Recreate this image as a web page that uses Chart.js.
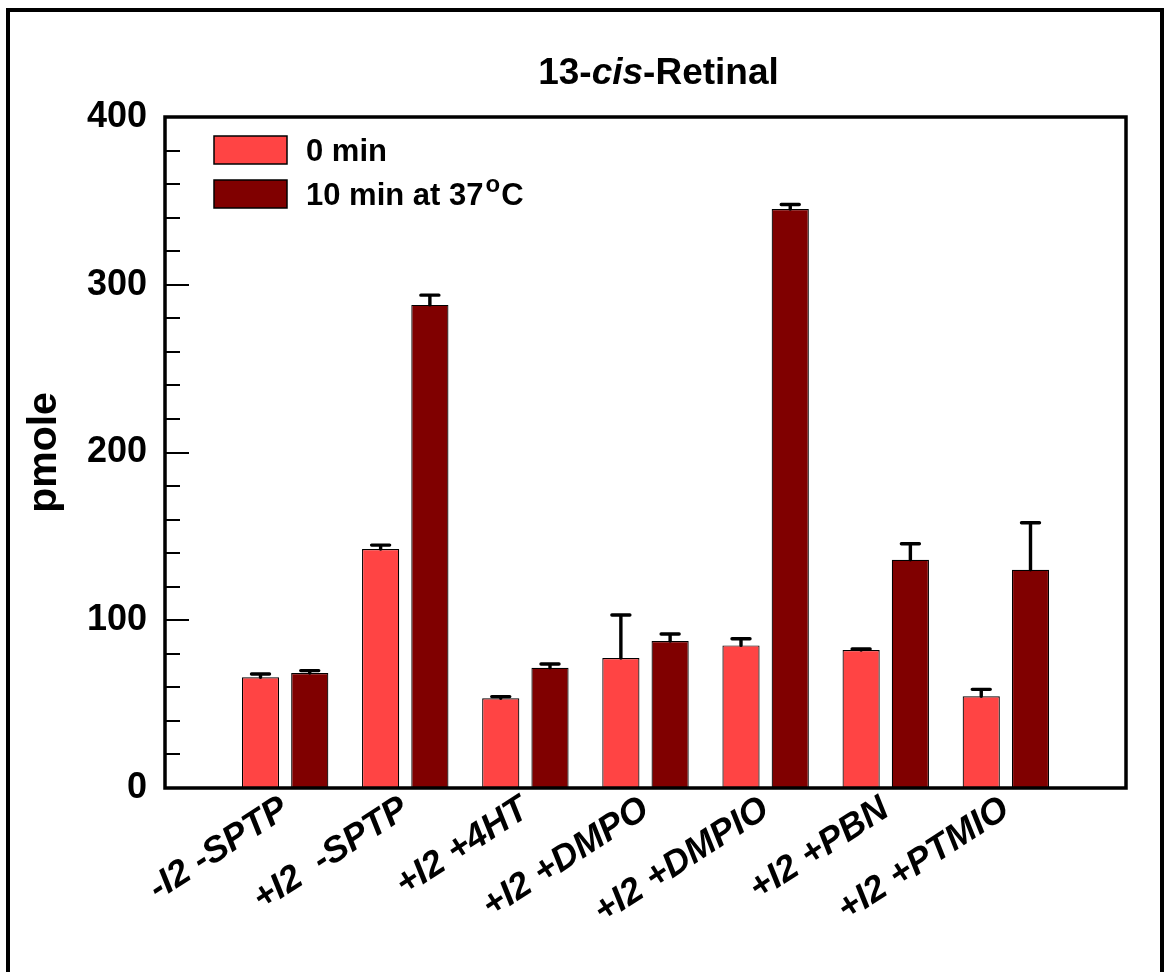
<!DOCTYPE html>
<html>
<head>
<meta charset="utf-8">
<script src="https://cdn.jsdelivr.net/npm/chart.js@4"></script>
<style>
  html, body { margin: 0; padding: 0; background: #fff; }
  #wrap { width: 1170px; height: 972px; position: relative; }
</style>
</head>
<body>
<div id="wrap"><canvas id="c" width="1170" height="972"></canvas></div>
<script>
// ---- data ----
const categories = ['', '-I2 -SPTP', '+I2  -SPTP', '+I2 +4HT', '+I2 +DMPO', '+I2 +DMPIO', '+I2 +PBN', '+I2 +PTMIO', ''];
const series0Label = '0 min';
const series1Label = '10 min at 37°C';
const values0min = [null, 66, 142.5, 53.5, 77.5, 85, 82.3, 54.7, null];
const errors0min = [null, 2, 2.3, 1, 25.6, 4, 0.6, 4.1, null];
const values10min = [null, 68.5, 288, 71.7, 87.6, 345.2, 136.1, 130.1, null];
const errors10min = [null, 1.5, 5.8, 2.2, 4.2, 2.6, 9.5, 28, null];
const yMajorTicks = [0, 100, 200, 300, 400];
const yMinorStep = 20;
const titleParts = [['13-', 'normal'], ['cis', 'italic'], ['-Retinal', 'normal']];

const FONT = '"Liberation Sans", Arial, sans-serif';
const colLight = '#FF4444';
const colDark = '#800000';

const errorBars = {
  id: 'errorBars',
  afterDatasetsDraw(chart) {
    const ctx = chart.ctx;
    const y = chart.scales.y;
    const errs = [errors0min, errors10min];
    chart.data.datasets.forEach((ds, di) => {
      const meta = chart.getDatasetMeta(di);
      meta.data.forEach((el, i) => {
        const v = ds.data[i];
        if (v == null) return;
        const top = y.getPixelForValue(v + errs[di][i]);
        ctx.save();
        ctx.strokeStyle = '#000';
        ctx.lineWidth = 3.4;
        ctx.lineCap = 'round';
        ctx.beginPath();
        ctx.moveTo(el.x, el.y);
        ctx.lineTo(el.x, top);
        ctx.moveTo(el.x - 9, top);
        ctx.lineTo(el.x + 9, top);
        ctx.stroke();
        ctx.restore();
      });
    });
  }
};

const frame = {
  id: 'frame',
  afterDraw(chart) {
    const ctx = chart.ctx;
    const a = chart.chartArea;
    const y = chart.scales.y;
    ctx.save();
    // minor / major ticks pointing inward
    ctx.strokeStyle = '#000';
    ctx.lineWidth = 2;
    for (let v = 0; v <= 400; v += yMinorStep) {
      const py = Math.round(y.getPixelForValue(v));
      const len = yMajorTicks.includes(v) ? 24 : 15;
      ctx.beginPath();
      ctx.moveTo(a.left, py);
      ctx.lineTo(a.left + len, py);
      ctx.stroke();
    }
    // plot frame
    ctx.lineWidth = 3.5;
    ctx.strokeRect(a.left, a.top, a.right - a.left, a.bottom - a.top);
    // outer border
    ctx.lineWidth = 4;
    ctx.strokeRect(8, 10, 1154, 980);

    // title
    ctx.fillStyle = '#000';
    ctx.textBaseline = 'alphabetic';
    let total = 0;
    titleParts.forEach(([t, st]) => {
      ctx.font = st + ' bold 37px ' + FONT;
      total += ctx.measureText(t).width;
    });
    let x = (a.left + a.right) / 2 + 13 - total / 2;
    titleParts.forEach(([t, st]) => {
      ctx.font = st + ' bold 37px ' + FONT;
      ctx.fillText(t, x, 84);
      x += ctx.measureText(t).width;
    });

    // legend
    const items = [[series0Label, colLight, 136], [series1Label, colDark, 180]];
    items.forEach(([label, col, top]) => {
      ctx.fillStyle = col;
      ctx.fillRect(214, top, 73, 28);
      ctx.strokeStyle = '#000';
      ctx.lineWidth = 1.5;
      ctx.strokeRect(214, top, 73, 28);
      ctx.fillStyle = '#000';
      const base = top + 25;
      let tx = 306;
      const parts = label.split('°');
      ctx.font = 'bold 31px ' + FONT;
      ctx.fillText(parts[0], tx, base);
      tx += ctx.measureText(parts[0]).width;
      if (parts.length > 1) {
        ctx.font = 'bold 24px ' + FONT;
        ctx.fillText('o', tx + 2, base - 13);
        tx += ctx.measureText('o').width + 3;
        ctx.font = 'bold 31px ' + FONT;
        ctx.fillText(parts[1], tx, base);
      }
    });
    ctx.restore();
  }
};

new Chart(document.getElementById('c'), {
  type: 'bar',
  data: {
    labels: categories,
    datasets: [
      { label: series0Label, data: values0min, backgroundColor: colLight, borderColor: '#000', borderWidth: 1.2 },
      { label: series1Label, data: values10min, backgroundColor: colDark, borderColor: '#000', borderWidth: 1.2 }
    ]
  },
  options: {
    responsive: false,
    animation: false,
    devicePixelRatio: 1,
    categoryPercentage: 0.82,
    barPercentage: 0.755,
    layout: { padding: { left: 0, top: 117, right: 44, bottom: 0 } },
    plugins: { legend: { display: false }, title: { display: false }, tooltip: { enabled: false } },
    scales: {
      x: {
        offset: false,
        grid: { display: false, drawTicks: false },
        border: { display: false },
        ticks: {
          autoSkip: false,
          minRotation: 33,
          maxRotation: 33,
          padding: 0,
          color: '#000',
          font: { family: FONT, size: 36, weight: 'bold', style: 'italic' }
        },
        afterFit(scale) { scale.height = 972 - 788; }
      },
      y: {
        min: 0,
        max: 400,
        grid: { display: false, drawTicks: false },
        border: { display: false },
        ticks: {
          stepSize: 100,
          padding: 18,
          color: '#000',
          font: { family: FONT, size: 36, weight: 'bold' }
        },
        title: {
          display: true,
          text: 'pmole',
          color: '#000',
          padding: { top: 20, bottom: 0 },
          font: { family: FONT, size: 41, weight: 'bold' }
        },
        afterFit(scale) { scale.width = 165; }
      }
    }
  },
  plugins: [errorBars, frame]
});
</script>
</body>
</html>
